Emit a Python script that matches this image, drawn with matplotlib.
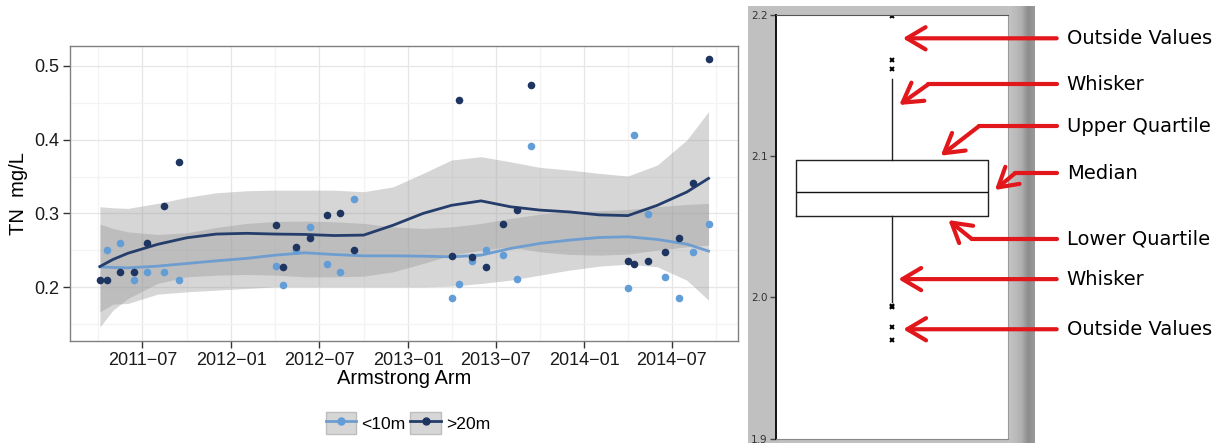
import numpy as np
import pandas as pd
import matplotlib
matplotlib.use('Agg')
import matplotlib.pyplot as plt
import matplotlib.dates as mdates
from matplotlib.lines import Line2D
from matplotlib.patches import Patch, ArrowStyle
from matplotlib.legend_handler import HandlerTuple
from matplotlib.colors import LinearSegmentedColormap
from matplotlib.ticker import MultipleLocator

plt.rcParams['font.family'] = ['Liberation Sans', 'DejaVu Sans']

# ---- TN readings, Armstrong Arm ----
shallow_dates = ['2011-04-18', '2011-05-16', '2011-06-13', '2011-07-11', '2011-08-14', '2011-09-14',
                 '2012-04-03', '2012-04-17', '2012-05-14', '2012-06-11', '2012-07-17', '2012-08-13', '2012-09-12',
                 '2013-04-02', '2013-04-16', '2013-05-14', '2013-06-11', '2013-07-16', '2013-08-14', '2013-09-12',
                 '2014-04-01', '2014-04-14', '2014-05-13', '2014-06-17', '2014-07-16', '2014-08-13', '2014-09-15']
shallow_tn = [0.25, 0.26, 0.21, 0.22, 0.22, 0.21,
              0.229, 0.203, 0.25, 0.281, 0.231, 0.22, 0.32,
              0.185, 0.204, 0.235, 0.251, 0.243, 0.211, 0.391,
              0.199, 0.407, 0.299, 0.214, 0.185, 0.248, 0.286]

deep_dates = ['2011-04-04', '2011-04-18', '2011-05-16', '2011-06-13', '2011-07-11', '2011-08-14', '2011-09-14',
              '2012-04-03', '2012-04-17', '2012-05-14', '2012-06-11', '2012-07-17', '2012-08-13', '2012-09-12',
              '2013-04-02', '2013-04-16', '2013-05-14', '2013-06-11', '2013-07-16', '2013-08-14', '2013-09-12',
              '2014-04-01', '2014-04-14', '2014-05-13', '2014-06-17', '2014-07-16', '2014-08-13', '2014-09-15']
deep_tn = [0.21, 0.21, 0.22, 0.22, 0.26, 0.31, 0.37,
           0.284, 0.228, 0.254, 0.266, 0.298, 0.301, 0.25,
           0.242, 0.454, 0.241, 0.228, 0.286, 0.304, 0.474,
           0.235, 0.231, 0.235, 0.247, 0.267, 0.341, 0.51]

# smoothed trend and its confidence band, also
smooth_dates = ['2011-04-04', '2011-05-01', '2011-06-01', '2011-08-01', '2011-10-01', '2011-12-01',
                '2012-02-01', '2012-04-01', '2012-06-01', '2012-08-01', '2012-10-01', '2012-12-01',
                '2013-02-01', '2013-04-01', '2013-06-01', '2013-08-01', '2013-10-01', '2013-12-01',
                '2014-02-01', '2014-04-01', '2014-06-01', '2014-08-01', '2014-09-15']
shallow_fit = [0.2276, 0.2267, 0.2262, 0.2285, 0.2321, 0.2357, 0.239, 0.2434, 0.2466, 0.2443, 0.2425, 0.2425,
               0.242, 0.2411, 0.2434, 0.2525, 0.2593, 0.2638, 0.2674, 0.2683, 0.2647, 0.2584, 0.2489]
shallow_lo = [0.1665, 0.177, 0.1779, 0.1905, 0.1937, 0.196, 0.1982, 0.2004, 0.2004, 0.2004, 0.2004, 0.2004,
              0.2004, 0.2014, 0.205, 0.2095, 0.2163, 0.2231, 0.2285, 0.2312, 0.2276, 0.2095, 0.1824]
shallow_hi = [0.2855, 0.2796, 0.275, 0.2715, 0.2737, 0.281, 0.2864, 0.2892, 0.2896, 0.2887, 0.2864, 0.2818,
              0.2796, 0.2818, 0.2864, 0.2932, 0.299, 0.3022, 0.3036, 0.3054, 0.309, 0.3122, 0.3136]
deep_fit = [0.228, 0.2376, 0.246, 0.258, 0.267, 0.272, 0.273, 0.272, 0.2715, 0.270, 0.2706, 0.284,
            0.300, 0.311, 0.317, 0.309, 0.3045, 0.302, 0.298, 0.297, 0.311, 0.329, 0.3475]
deep_lo = [0.1461, 0.1688, 0.1847, 0.205, 0.214, 0.2163, 0.2172, 0.2163, 0.214, 0.214, 0.2149, 0.2208,
           0.2321, 0.2434, 0.2502, 0.2547, 0.2479, 0.2443, 0.2434, 0.2448, 0.2502, 0.2547, 0.257]
deep_hi = [0.309, 0.3076, 0.3068, 0.3136, 0.3218, 0.328, 0.3307, 0.3316, 0.3316, 0.3316, 0.3294, 0.336,
           0.3543, 0.3724, 0.3769, 0.370, 0.3624, 0.3588, 0.3543, 0.3507, 0.3656, 0.3995, 0.438]

series_labels = ['<10m', '>20m']
x_tick_dates = ['2011-07-01', '2012-01-01', '2012-07-01', '2013-01-01', '2013-07-01', '2014-01-01', '2014-07-01']
x_tick_labels = ['2011\u221207', '2012\u221201', '2012\u221207', '2013\u221201', '2013\u221207', '2014\u221201', '2014\u221207']
y_ticks = [0.2, 0.3, 0.4, 0.5]

# ---- box plot anatomy panel ----
box_stats = dict(med=2.0747, q1=2.0574, q3=2.097, whislo=1.9966, whishi=2.1546,
                 fliers=[2.199, 2.168, 2.1617, 1.994, 1.9935, 1.979, 1.970])
box_ticks = [1.9, 2.0, 2.1, 2.2]

# label, y, bend x (None = straight), head x, head y  -- box axes data units
callouts = [
    ('Outside Values', 2.1835, None, 0.547, 2.1835),
    ('Whisker', 2.1509, 0.657, 0.532, 2.1363),
    ('Upper Quartile', 2.1214, 0.877, 0.711, 2.1004),
    ('Median', 2.0879, 1.031, 0.945, 2.0761),
    ('Lower Quartile', 2.0414, 0.845, 0.744, 2.0548),
    ('Whisker', 2.0130, None, 0.528, 2.0130),
    ('Outside Values', 1.9775, None, 0.549, 1.9775),
]

light = '#629dd7'
light_line = '#6e9dcf'
dark = '#1f3561'
dark_line = '#243d6b'
red = '#e2171b'

W, H = 1227, 443
fig = plt.figure(figsize=(W / 100, H / 100), dpi=100)


def px_axes(x0, y0, x1, y1):
    return fig.add_axes([x0 / W, 1 - y1 / H, (x1 - x0) / W, (y1 - y0) / H])


# ================= left: TN over time =================
ax = px_axes(70, 46, 738, 341)
sd = pd.to_datetime(smooth_dates)
ax.fill_between(sd, shallow_lo, shallow_hi, color='#999999', alpha=0.4, lw=0, zorder=1)
ax.fill_between(sd, deep_lo, deep_hi, color='#999999', alpha=0.4, lw=0, zorder=1)
ax.plot(sd, shallow_fit, color=light_line, lw=2.0, zorder=2)
ax.plot(sd, deep_fit, color=dark_line, lw=2.0, zorder=2)
ax.scatter(pd.to_datetime(shallow_dates), shallow_tn, s=30, color=light, lw=0, zorder=3)
ax.scatter(pd.to_datetime(deep_dates), deep_tn, s=30, color=dark, lw=0, zorder=4)

ax.set_xlim(pd.Timestamp('2011-02-01'), pd.Timestamp('2014-11-15'))
ax.set_ylim(0.127, 0.527)
ax.set_xticks(pd.to_datetime(x_tick_dates))
ax.set_xticklabels(x_tick_labels)
ax.xaxis.set_minor_locator(mdates.MonthLocator(bymonth=[4, 10]))
ax.set_yticks(y_ticks)
ax.set_yticklabels([f'{v:.1f}' for v in y_ticks])
ax.yaxis.set_minor_locator(MultipleLocator(0.05))
ax.grid(which='major', color='#e6e6e6', lw=0.9)
ax.grid(which='minor', color='#f3f3f3', lw=0.9)
ax.set_axisbelow(True)
ax.tick_params(which='major', direction='out', length=5, width=1, color='#333333',
               labelsize=13, labelcolor='#1a1a1a', pad=3)
ax.tick_params(which='minor', length=0)
for s in ax.spines.values():
    s.set_color('#808080')
    s.set_linewidth(1)
ax.set_xlabel('Armstrong Arm', fontsize=14.5, labelpad=0)
ax.set_ylabel('TN  mg/L', fontsize=14.5, labelpad=4)

handles = [
    (Patch(facecolor='#d6d6d6', edgecolor='#bdbdbd'),
     Line2D([], [], color=light_line, lw=2, marker='o', ms=5, mfc=light, mec=light)),
    (Patch(facecolor='#d6d6d6', edgecolor='#bdbdbd'),
     Line2D([], [], color=dark_line, lw=2, marker='o', ms=5, mfc=dark, mec=dark)),
]
fig.legend(handles, series_labels, handler_map={tuple: HandlerTuple(ndivide=1, pad=0)},
           loc='center', bbox_to_anchor=(408 / W, 1 - 423 / H), ncol=2, frameon=False,
           fontsize=12.6, handlelength=1.75, handleheight=1.5, handletextpad=0.3, columnspacing=0.25)

# ================= right: box plot anatomy =================
bg = px_axes(748, 6, 1035, 443)
bg.set_facecolor('#c0c0c0')
bg.set_xticks([])
bg.set_yticks([])
for s in bg.spines.values():
    s.set_visible(False)

edge = px_axes(1008, 6, 1035, 443)
bevel = LinearSegmentedColormap.from_list('bevel', ['#c4c4c4', '#bcbcbc', '#b0b0b0', '#8c8c8c', '#9a9a9a'])
edge.imshow(np.linspace(0, 1, 60)[None, :], cmap=bevel, aspect='auto', interpolation='bilinear')
edge.set_axis_off()

bx = px_axes(776, 15, 1007.7, 438.7)
bx.set_facecolor('white')
bx.bxp([box_stats], positions=[0.5], widths=[0.83], showcaps=False,
       boxprops=dict(color='#222222', lw=1), medianprops=dict(color='#111111', lw=1),
       whiskerprops=dict(color='#222222', lw=1),
       flierprops=dict(marker='x', ms=3.5, mec='black', mew=1.4))
bx.set_xlim(0, 1)
bx.set_ylim(1.9, 2.2)
bx.set_xticks([])
bx.set_yticks(box_ticks)
bx.set_yticklabels([f'{v:.1f}' for v in box_ticks], family='DejaVu Sans')
bx.tick_params(axis='y', direction='out', length=4, width=1, color='#444444',
               labelsize=7.5, labelcolor='#333333', pad=2)
bx.spines['left'].set_color('#111111')
bx.spines['left'].set_linewidth(1.4)
bx.spines['top'].set_color('#555555')
bx.spines['bottom'].set_color('#888888')
bx.spines['right'].set_color('#9a9a9a')

tail_x = 1.2115
text_x = 1.2546
for label, y, bend_x, head_x, head_y in callouts:
    start_x = tail_x
    if bend_x is not None:
        bx.plot([tail_x, bend_x], [y, y], color=red, lw=3.0, clip_on=False,
                solid_capstyle='round', zorder=5)
        start_x = bend_x
    bx.annotate('', xy=(head_x, head_y), xytext=(start_x, y), annotation_clip=False,
                arrowprops=dict(arrowstyle=ArrowStyle('->', head_length=1.35, head_width=0.8),
                                color=red, lw=3.0, shrinkA=0, shrinkB=0, capstyle='round'),
                zorder=5)
    bx.text(text_x, y, label, fontsize=14, family='DejaVu Sans', color='black',
            va='center', ha='left', clip_on=False)

fig.savefig('out.png', dpi=100)
